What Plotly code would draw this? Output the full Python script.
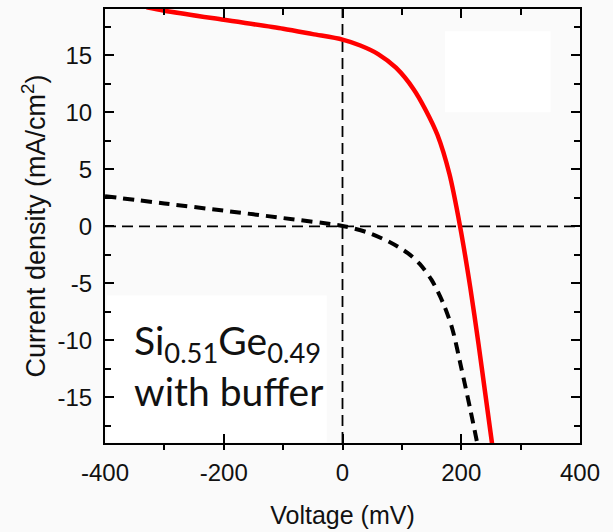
import plotly.graph_objects as go

# Red solid J-V curve (illuminated)
red_v = [-330, -300, -200, -100, -50, 0, 30, 60, 90, 120, 140, 160, 180, 198, 215, 229, 240, 252]
red_j = [19.2, 18.9, 18.1, 17.32, 16.85, 16.37, 15.85, 15.1, 13.9, 12.0, 10.2, 8.0, 4.6, 0.0, -5.3, -10.3, -14.5, -19.1]

# Black dashed J-V curve (dark)
blk_v = [-400, -300, -200, -100, 0, 40, 80, 110, 130, 150, 170, 185, 200, 215, 230]
blk_j = [2.64, 2.0, 1.37, 0.72, 0.03, -0.5, -1.4, -2.35, -3.3, -4.7, -6.8, -9.0, -12.4, -16.0, -19.8]

x_range = [-400, 400]
y_range = [-19.0, 19.05]
x_tickvals = [-400, -200, 0, 200, 400]
x_ticktext = ["-400", "-200", "0", "200", "400"]
y_tickvals = [-15, -10, -5, 0, 5, 10, 15]
y_ticktext = ["-15", "-10", "-5", "0", "5", "10", "15"]

tick_font = dict(family="Liberation Sans, Arial", size=24, color="#111111")

fig = go.Figure()
fig.add_trace(go.Scatter(x=red_v, y=red_j, mode="lines",
                         line=dict(color="#ff0000", width=4.5, shape="spline", smoothing=0.8),
                         showlegend=False, hoverinfo="skip"))
fig.add_trace(go.Scatter(x=blk_v, y=blk_j, mode="lines",
                         line=dict(color="black", width=4, dash="11px,7px", shape="spline", smoothing=0.8),
                         showlegend=False, hoverinfo="skip"))
# helper trace to activate the top axis (invisible)
fig.add_trace(go.Scatter(x=[x_range[0]], y=[0], xaxis="x2", mode="markers",
                         marker=dict(opacity=0), showlegend=False, hoverinfo="skip"))

fig.update_layout(
    width=613, height=532,
    margin=dict(l=105, r=33, t=7, b=89),
    paper_bgcolor="#fafafa", plot_bgcolor="#fafafa",
    xaxis=dict(range=x_range, tickvals=x_tickvals, ticktext=x_ticktext, ticks="inside", ticklen=9, tickwidth=2,
               tickcolor="black", showline=True, linewidth=2, linecolor="black", mirror=True,
               showgrid=False, zeroline=False, tickfont=tick_font, ticklabelstandoff=7,
               minor=dict(dtick=100, tick0=0, ticks="outside", ticklen=5, tickwidth=2,
                          tickcolor="black", showgrid=False),
               title=dict(text="Voltage (mV)", font=dict(family="Liberation Sans, Arial", size=25,
                                                         color="#111111"), standoff=22)),
    xaxis2=dict(range=x_range, overlaying="x", side="top", anchor="y", dtick=200, tick0=0,
                ticks="inside", ticklen=9, tickwidth=2, tickcolor="black", showticklabels=False,
                showline=False, showgrid=False, zeroline=False,
                minor=dict(dtick=100, tick0=0, ticks="inside", ticklen=6, tickwidth=2,
                           tickcolor="black", showgrid=False)),
    yaxis=dict(range=y_range, tickvals=y_tickvals, ticktext=y_ticktext, ticks="inside", ticklen=9, tickwidth=2,
               tickcolor="black", showline=True, linewidth=2, linecolor="black", mirror="ticks",
               showgrid=False, zeroline=False, tickfont=tick_font, ticklabelstandoff=6,
               minor=dict(dtick=2.5, tick0=0, ticks="inside", ticklen=6, tickwidth=2,
                          tickcolor="black", showgrid=False),
               title=dict(text="Current density (mA/cm<sup>2</sup>)",
                          font=dict(family="Liberation Sans, Arial", size=27, color="#111111"),
                          standoff=4)),
    shapes=[
        # white box behind the label
        dict(type="rect", xref="paper", yref="paper", x0=0.004, x1=0.467, y0=0.002, y1=0.34,
             fillcolor="white", line=dict(width=0), layer="below"),
        # blank white rectangle top right
        dict(type="rect", xref="paper", yref="paper", x0=0.716, x1=0.938, y0=0.762, y1=0.949,
             fillcolor="white", line=dict(width=0), layer="below"),
        # dashed guide lines
        dict(type="line", xref="x", yref="paper", x0=0, x1=0, y0=0, y1=1,
             line=dict(color="black", width=1.8, dash="11px,6px"), layer="below"),
        dict(type="line", xref="paper", yref="y", x0=0, x1=1, y0=0, y1=0,
             line=dict(color="black", width=1.8, dash="11px,6px"), layer="below"),
    ],
    annotations=[
        dict(text="Si<sub>0.51</sub>Ge<sub>0.49</sub><br>with buffer", xref="paper", yref="paper",
             x=0.056, y=0.179, xanchor="left", yanchor="middle", align="left", showarrow=False,
             font=dict(family="Lato", size=39, color="#111111")),
    ],
)

fig.write_html("out.html")
